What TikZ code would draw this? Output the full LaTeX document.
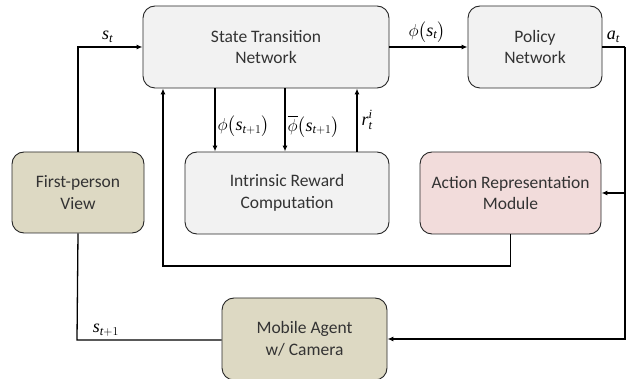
\documentclass[tikz,border=0pt]{standalone}
\usepackage{amsmath}
\usepackage{fontspec}
\setmainfont{Carlito}
\newfontfamily\tnr{Liberation Serif}
\newcommand{\mv}[1]{\text{\tnr\itshape #1}}
\usetikzlibrary{arrows.meta}
\tikzset{
	box/.style={draw=black!85, line width=0.9pt, rounded corners=12pt, align=center,
		text=black!80, font=\fontsize{17.5}{21.5}\selectfont},
	grey/.style={box, fill=black!5},
	olive/.style={box, fill={rgb,255:red,221;green,217;blue,195}},
	rose/.style={box, fill={rgb,255:red,242;green,220;blue,219}},
	arr/.style={line width=1.3pt, -{Latex[length=6pt,width=5pt]}},
	lin/.style={line width=1.3pt},
	lbl/.style={font=\fontsize{18}{20}\selectfont, inner sep=1pt}
}
\begin{document}
\begin{tikzpicture}[x=1pt, y=-1pt]
	\useasboundingbox (0,0) rectangle (629,379);
	% Kaesten
	\node[grey, minimum width=246pt, minimum height=82pt] (stn) at (266,47) {State Transition\\Network};
	\node[grey, minimum width=134pt, minimum height=82pt] (policy) at (535,47) {Policy\\Network};
	\node[olive, minimum width=132pt, minimum height=81pt] (view) at (78,192.5) {First-person\\View};
	\node[grey, minimum width=204pt, minimum height=82pt] (irc) at (287,193) {Intrinsic Reward\\Computation};
	\node[rose, minimum width=181pt, minimum height=82pt] (arm) at (510.5,193) {Action Representation\\Module};
	\node[olive, minimum width=165pt, minimum height=82pt] (agent) at (304.5,339) {Mobile Agent\\w/ Camera};

	% Hilfspunkte
	\coordinate (turn) at (625,47);
	\coordinate (low) at (77,340);
	\coordinate (fbk) at (163,266);

	% Zustand zum Zustandsuebergangsnetz
	\draw[arr] (view.north) |- (stn.west) node[lbl, pos=0.73, above=3pt] {$\mv{s}_{\mv{t}}$};
	\draw[arr] (stn.east) -- (policy.west) node[lbl, pos=0.48, above=3pt] {$\phi\bigl(\mv{s}_{\mv{t}}\bigr)$};
	% Aktion
	\draw[lin] (policy.east) -- (turn) node[lbl, pos=0.48, above=3pt] {$\mv{a}_{\mv{t}}$};
	\draw[arr] (turn) |- (agent.east);
	\draw[arr] (turn |- arm.east) -- (arm.east);
	% naechster Zustand
	\draw[lin] (view.south) -- (low) -- (low -| agent.west) node[lbl, pos=0.2, above=2pt] {$\mv{s}_{\mv{t}+1}$};
	% intrinsische Belohnung
	\draw[arr] ([xshift=-51pt]stn.south) -- ([xshift=-51pt]stn.south |- irc.north)
		node[lbl, pos=0.6, right=1pt] {$\phi\bigl(\mv{s}_{\mv{t}+1}\bigr)$};
	\draw[arr] ([xshift=19pt]stn.south) -- ([xshift=19pt]stn.south |- irc.north)
		node[lbl, pos=0.6, right=1pt] {$\overline{\phi}\bigl(\mv{s}_{\mv{t}+1}\bigr)$};
	\draw[arr] ([xshift=70pt]irc.north) -- ([xshift=70pt]irc.north |- stn.south)
		node[lbl, pos=0.5, right=3pt] {$\mv{r}_{\mv{t}}^{\mv{i}}$};
	% Rueckfuehrung
	\draw[arr] (arm.south) |- (fbk) -- (fbk |- stn.south);
\end{tikzpicture}
\end{document}
